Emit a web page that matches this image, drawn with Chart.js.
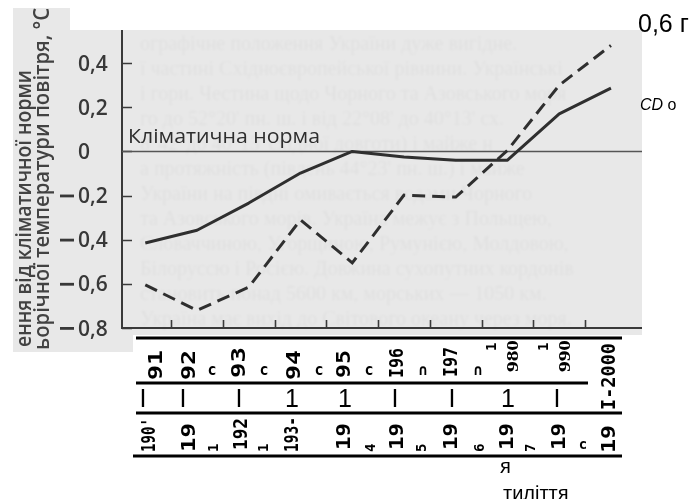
<!DOCTYPE html>
<html>
<head>
<meta charset="utf-8">
<script src="https://cdn.jsdelivr.net/npm/chart.js@4/dist/chart.umd.min.js"></script>
<style>
  html, body { margin: 0; padding: 0; background: #fff; }
  #wrap { width: 695px; height: 499px; }
</style>
</head>
<body>
<div id="wrap"><canvas id="chart" width="695" height="499"></canvas></div>
<script>
// Decade midpoints and the temperature anomalies (°C) against the climate norm
const decadeMid = [1905, 1915, 1925, 1935, 1945, 1955, 1965, 1975, 1985, 1995];
const decadeAnomaly = [-0.605, -0.72, -0.615, -0.31, -0.505, -0.198, -0.207, 0.005, 0.30, 0.48];
const smoothedAnomaly = [-0.415, -0.357, -0.234, -0.098, 0.0, -0.025, -0.04, -0.04, 0.17, 0.287];

// Axis ticks
const yTickValues = [0.4, 0.2, 0, -0.2, -0.4, -0.6, -0.8];
const yTickLabels = ['0,4', '0,2', '0', '−0,2', '−0,4', '−0,6', '−0,8'];
const xTickYears = [1910, 1920, 1930, 1940, 1950, 1960, 1970, 1980, 1990];

// Texts
const normLabel = 'Кліматична норма';
const yTitleLines = ['ення від кліматичної норми', 'ьорічної температури повітря, °С'];

// Period table under the axis: rotated labels per row
const periodRowTop = ['91', '92', '93', '94', '95', 'I96', 'I97', '980', '990', 'I-2000'];
const periodRowTopMarks = ['c', 'c', 'c', 'c', '∩', '∩'];
const periodRowTopDashes = ['1', '1'];
const periodRowMid = ['I', 'I', 'I', '1', '1', 'I', 'I', '1', 'I'];
const periodRowLow = ["190'", '19', '192', '193-', '19', '19', '19', '19', '19', '19'];
const periodRowLowMarks = ['1', '1', '4', '5', '6', '7'];
const periodRowLowTail = 'c';
const footLabels = ['я', 'тиліття'];
const cornerLabel = '0,6 г';
const sideLabel = ['CD', 'o'];

// Faint show-through of the reverse page of the scan
const reverseLines = [
  'ографічне положення України дуже вигідне.',
  'ї частині Східноєвропейської рівнини. Українські',
  'і гори. Честина щодо Чорного та Азовського моря',
  'го до 52°20\' пн. ш. і від 22°08\' до 40°13\' сх.',
  '8°42\' до 40°13\' східної довготи) і майже н',
  'а протяжність (південь 44°23\' пн. ш.) і майже',
  'України на півдні омивається водами Чорного',
  'та Азовського морів. Україна межує з Польщею,',
  'Словаччиною, Угорщиною, Румунією, Молдовою,',
  'Білоруссю і Росією. Довжина сухопутних кордонів',
  'становить понад 5600 км, морських — 1050 км.',
  'Україна має вихід до Світового океану через моря.'
];

// ---- layout (pixels) ----
const L = {
  scanRects: [[13, 30, 629, 305], [13, 8, 57, 22], [13, 335, 120, 17]],
  scanColor: '#e8e8e8',
  tickLabelLeft: 78,
  titleBaselines: [31, 49], titleStarts: [347, 350], titleLengths: [277, 342],
  normLeft: 128, normBaseline: 143, normLength: 192,
  tableLines: [[136, 622, 338], [136, 588, 383], [136, 622, 413], [133, 622, 456]],
  topX: [162, 195, 245, 300, 350, 403, 457, 518, 570, 615],
  topY: [380, 380, 378, 380, 378, 378, 377, 372, 372, 410],
  topLen: [30, 30, 31, 30, 28, 30, 30, 32, 32, 67],
  topMarksX: [212, 264, 319, 369, 423, 478], topMarksY: 371,
  topDashX: [496, 548], topDashY: 351,
  midX: [143, 183, 239, 292, 345, 395, 452, 508, 557], midBaseline: 407,
  lowX: [155, 195, 247, 298, 350, 403, 457, 513, 565, 615],
  lowY: [452, 452, 450, 452, 450, 450, 450, 450, 450, 453],
  lowLen: [34, 29, 32, 35, 27, 27, 27, 27, 27, 28],
  lowMarksX: [218, 268, 375, 426, 484, 535], lowMarksY: 452,
  lowTailX: 583, lowTailY: 445
};

function rotText(ctx, t, xb, y0, len, font) {
  ctx.save();
  ctx.font = font;
  ctx.translate(xb, y0);
  ctx.rotate(-Math.PI / 2);
  if (len) {
    const w = ctx.measureText(t).width;
    ctx.scale(len / w, 1);
  }
  ctx.textAlign = 'left';
  ctx.textBaseline = 'alphabetic';
  ctx.fillText(t, 0, 0);
  ctx.restore();
}

const scanPlugin = {
  id: 'scan',
  beforeDraw(chart) {
    const ctx = chart.ctx;
    const area = chart.chartArea;
    const xs = chart.scales.x, ys = chart.scales.y;
    ctx.save();
    ctx.fillStyle = '#ffffff';
    ctx.fillRect(0, 0, chart.width, chart.height);

    // scanned page background
    ctx.fillStyle = L.scanColor;
    ctx.beginPath();
    L.scanRects.forEach(r => ctx.rect(r[0], r[1], r[2], r[3]));
    ctx.fill();
    ctx.clip();

    // show-through text, soft
    ctx.save();
    ctx.filter = 'blur(0.8px)';
    ctx.fillStyle = 'rgba(0,0,0,0.035)';
    ctx.font = '20px "Liberation Serif"';
    reverseLines.forEach((t, i) => ctx.fillText(t, 140, 50 + i * 25));
    ctx.restore();

    // y axis title
    ctx.fillStyle = '#424242';
    yTitleLines.forEach((t, i) =>
      rotText(ctx, t, L.titleBaselines[i], L.titleStarts[i], L.titleLengths[i], '600 21px "Open Sans"'));
    ctx.restore();

    ctx.save();
    // y tick labels
    ctx.fillStyle = '#383838';
    ctx.font = '600 21px "Open Sans"';
    ctx.textBaseline = 'alphabetic';
    yTickValues.forEach((v, i) => {
      const y = ys.getPixelForValue(v) + 7.5;
      let t = yTickLabels[i];
      if (t.startsWith('−')) {
        t = t.slice(1);
        ctx.fillRect(L.tickLabelLeft - 18, y - 8.5, 14, 2.8);
      }
      ctx.textAlign = 'left';
      ctx.fillText(t, L.tickLabelLeft, y);
    });

    // axes
    ctx.strokeStyle = '#3a3a3a';
    ctx.lineWidth = 2;
    ctx.beginPath();
    ctx.moveTo(area.left, area.top);
    ctx.lineTo(area.left, area.bottom);
    ctx.lineTo(area.right, area.bottom);
    ctx.stroke();

    ctx.lineWidth = 1.6;
    ctx.beginPath();
    yTickValues.forEach(v => {
      const y = Math.round(ys.getPixelForValue(v)) + 0.5;
      ctx.moveTo(area.left, y);
      ctx.lineTo(area.left + 10, y);
    });
    xTickYears.forEach(yr => {
      const x = Math.round(xs.getPixelForValue(yr)) + 0.5;
      ctx.moveTo(x, area.bottom);
      ctx.lineTo(x, area.bottom - 8);
    });
    ctx.stroke();

    // climate norm line
    const y0 = ys.getPixelForValue(0);
    ctx.strokeStyle = '#555';
    ctx.lineWidth = 1.5;
    ctx.beginPath();
    ctx.moveTo(area.left, y0);
    ctx.lineTo(area.right, y0);
    ctx.stroke();

    ctx.fillStyle = '#2e2e2e';
    ctx.font = '500 20px "Open Sans"';
    const w = ctx.measureText(normLabel).width;
    ctx.translate(L.normLeft, L.normBaseline);
    ctx.scale(L.normLength / w, 1);
    ctx.textAlign = 'left';
    ctx.fillText(normLabel, 0, 0);
    ctx.restore();
  },
  afterDraw(chart) {
    const ctx = chart.ctx;
    ctx.save();
    ctx.fillStyle = '#000';
    ctx.strokeStyle = '#000';
    ctx.lineWidth = 3;
    ctx.beginPath();
    L.tableLines.forEach(l => { ctx.moveTo(l[0], l[2]); ctx.lineTo(l[1], l[2]); });
    ctx.stroke();

    const mono = 'bold 19px "DejaVu Sans Mono"';
    const serif = 'bold 16px "Liberation Serif"';
    const tiny = 'bold 14px "DejaVu Sans Mono"';

    periodRowTop.forEach((t, i) => {
      const f = (t === '980' || t === '990') ? serif : mono;
      rotText(ctx, t, L.topX[i], L.topY[i], L.topLen[i], f);
    });
    ctx.font = 'bold 15px "DejaVu Sans Mono"';
    ctx.textAlign = 'center';
    ctx.textBaseline = 'middle';
    periodRowTopMarks.forEach((t, i) => ctx.fillText(t, L.topMarksX[i], L.topMarksY));
    periodRowTopDashes.forEach((t, i) => rotText(ctx, t, L.topDashX[i], L.topDashY, null, tiny));

    ctx.font = '25px "Liberation Sans"';
    ctx.textAlign = 'center';
    ctx.textBaseline = 'alphabetic';
    periodRowMid.forEach((t, i) => ctx.fillText(t, L.midX[i], L.midBaseline));

    periodRowLow.forEach((t, i) => rotText(ctx, t, L.lowX[i], L.lowY[i], L.lowLen[i], mono));
    periodRowLowMarks.forEach((t, i) => rotText(ctx, t, L.lowMarksX[i], L.lowMarksY, null, tiny));
    ctx.font = 'bold 14px "DejaVu Sans Mono"';
    ctx.textAlign = 'center';
    ctx.textBaseline = 'middle';
    ctx.fillText(periodRowLowTail, L.lowTailX, L.lowTailY);

    // loose labels around the figure
    ctx.textAlign = 'left';
    ctx.textBaseline = 'alphabetic';
    ctx.font = '20px "Liberation Sans"';
    ctx.fillText(footLabels[0], 500, 473);
    ctx.fillText(footLabels[1], 503, 500);
    ctx.font = '25px "Liberation Sans"';
    ctx.fillText(cornerLabel, 638, 32);
    ctx.font = 'italic 16px "Liberation Sans"';
    ctx.fillText(sideLabel[0], 640, 110);
    const cw = ctx.measureText(sideLabel[0] + ' ').width;
    ctx.font = '16px "Liberation Sans"';
    ctx.fillText(sideLabel[1], 640 + cw, 110);
    ctx.restore();
  }
};

const pts = arr => decadeMid.map((x, i) => ({ x, y: arr[i] }));

new Chart(document.getElementById('chart'), {
  type: 'line',
  data: {
    datasets: [
      {
        label: 'Згладжені відхилення',
        data: pts(smoothedAnomaly),
        borderColor: '#2f2f2f',
        borderWidth: 3,
        pointRadius: 0,
        tension: 0,
        borderJoinStyle: 'round'
      },
      {
        label: 'Середні за десятиріччя',
        data: pts(decadeAnomaly),
        borderColor: '#2f2f2f',
        borderWidth: 3,
        borderDash: [13, 7],
        pointRadius: 0,
        tension: 0,
        borderJoinStyle: 'miter'
      }
    ]
  },
  options: {
    responsive: false,
    animation: false,
    devicePixelRatio: 1,
    layout: { padding: { left: 122, top: 30, right: 53, bottom: 171 } },
    scales: {
      x: { type: 'linear', min: 1900.5, max: 2001, display: false },
      y: { min: -0.8, max: 0.55, display: false }
    },
    plugins: { legend: { display: false }, tooltip: { enabled: false } }
  },
  plugins: [scanPlugin]
});
</script>
</body>
</html>
